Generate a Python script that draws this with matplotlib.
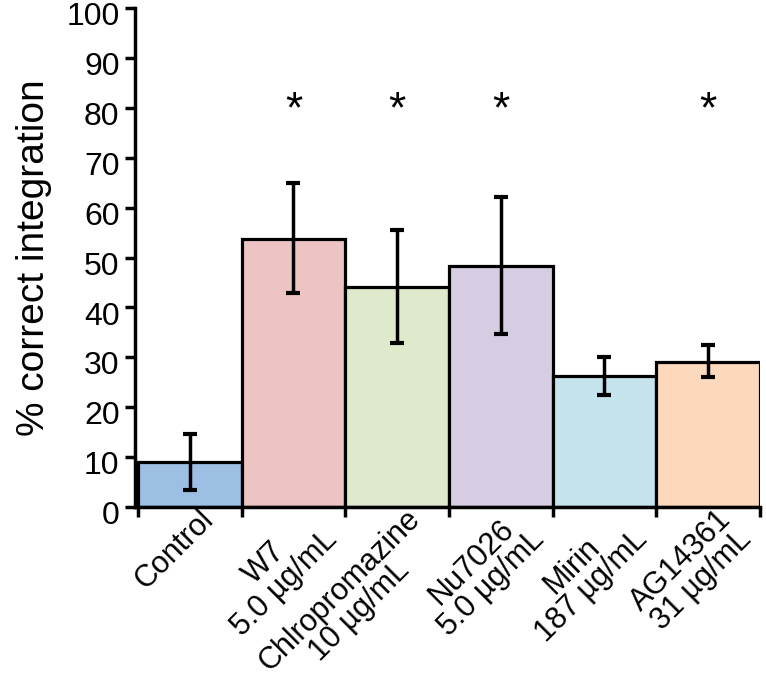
import matplotlib
matplotlib.use("Agg")
import matplotlib.pyplot as plt
import matplotlib.transforms as mtransforms
import numpy as np

plt.rcParams['font.family'] = ['Liberation Sans', 'DejaVu Sans']

# Daten
labels = ["Control", "W7\n5.0 µg/mL", "Chlropromazine\n10 µg/mL",
          "Nu7026\n5.0 µg/mL", "Mirin\n187 µg/mL", "AG14361\n31 µg/mL"]
values = [9.1, 53.8, 44.0, 48.3, 26.3, 29.0]
err_low = [3.4, 42.8, 32.8, 34.6, 22.5, 26.0]
err_high = [14.6, 65.0, 55.6, 62.2, 30.1, 32.5]
significant = [False, True, True, True, False, True]
colors = ["#9dbfe3", "#ecc4c3", "#dfe9cb", "#d6cde3", "#c4e3ec", "#fcd9bc"]

fig = plt.figure(figsize=(7.66, 6.76), dpi=100)
ax = fig.add_axes([0.176, 0.25, 0.816, 0.738])

x = np.arange(len(values))
centers = x + 0.5
vals = np.array(values)
yerr = [vals - np.array(err_low), np.array(err_high) - vals]

ax.bar(x, values, width=1.0, align="edge", color=colors,
       edgecolor="black", linewidth=2.3, zorder=2)
ax.errorbar(centers, values, yerr=yerr, fmt="none", ecolor="black",
            elinewidth=2.5, capsize=5, capthick=3, zorder=3)

# Sternchen fuer Signifikanz
for c, s in zip(centers, significant):
    if s:
        ax.text(c, 79.5, "*", ha="center", va="center", fontsize=32)

ax.set_ylim(0, 100)
ax.set_xlim(-0.03, 6.0)
ax.set_yticks(np.arange(0, 101, 10))
ax.set_xticks(np.arange(0, 7))
ax.set_xticklabels([])
ax.set_xticks(centers, minor=True)
ax.set_xticklabels(labels, minor=True, rotation=45, ha="right",
                   rotation_mode="anchor", fontsize=22, multialignment="center",
                   linespacing=0.92)
ax.tick_params(axis="x", which="minor", length=0, pad=2)
ax.tick_params(axis="both", which="major", direction="out", length=7, width=2.5)
ax.tick_params(axis="y", labelsize=23, pad=4)

# x-Beschriftungen etwas nach rechts/oben schieben
xshift = mtransforms.ScaledTranslation(6 / 72, 4 / 72, fig.dpi_scale_trans)
for lab in ax.get_xticklabels(minor=True):
    lab.set_transform(lab.get_transform() + xshift)

# y-Beschriftungen etwas nach unten verschieben (wie im Original)
shift = mtransforms.ScaledTranslation(0, -4 / 72, fig.dpi_scale_trans)
for lab in ax.get_yticklabels():
    lab.set_transform(lab.get_transform() + shift)

for side in ["top", "right"]:
    ax.spines[side].set_visible(False)
for side in ["left", "bottom"]:
    ax.spines[side].set_linewidth(2.5)

ax.set_ylabel("% correct integration", fontsize=28, labelpad=10)

fig.savefig("out.png", dpi=100)
